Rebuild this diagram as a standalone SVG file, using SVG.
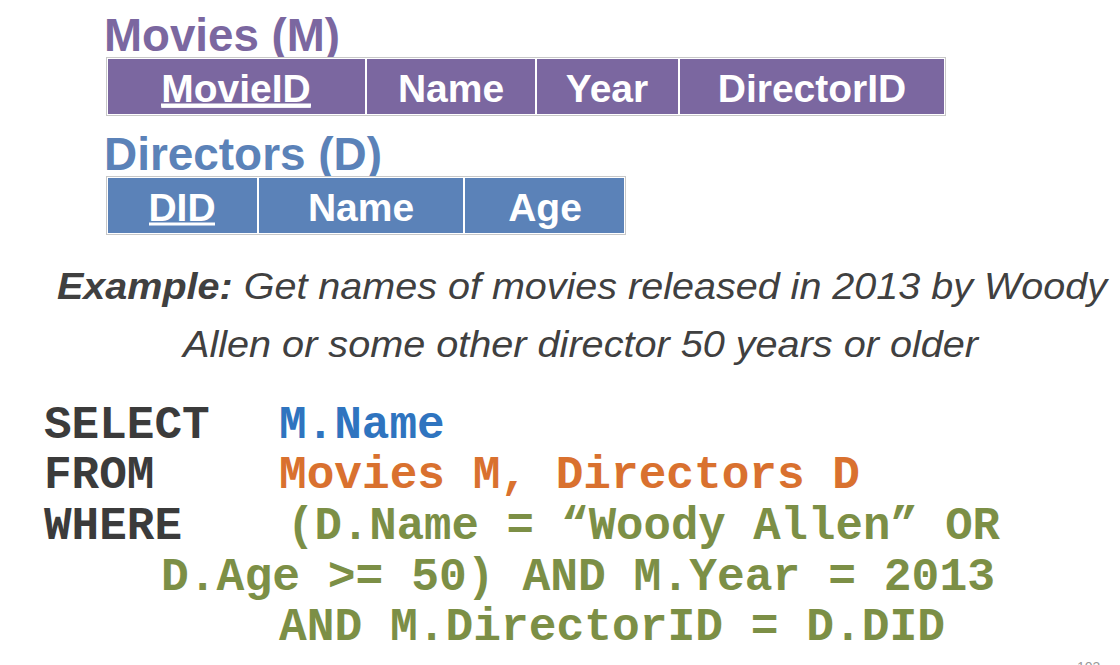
<svg xmlns="http://www.w3.org/2000/svg" width="1120" height="665" viewBox="0 0 1120 665">
<style>
.title{font-family:"Liberation Sans",Arial,sans-serif;font-weight:bold;font-size:46px}
.hdr{font-family:"Liberation Sans",Arial,sans-serif;font-weight:bold;font-size:39px;fill:#ffffff;text-anchor:middle}
.cellM{fill:#7b67a0;stroke:#ffffff;stroke-width:2}
.cellD{fill:#5b82b8;stroke:#ffffff;stroke-width:2}
.outer{fill:none;stroke:#c8c8c8;stroke-width:1}
.ex{font-family:"Liberation Sans",Arial,sans-serif;font-style:italic;font-size:37px;fill:#404040}
.code{font-family:"Liberation Mono","Courier New",monospace;font-weight:bold;font-size:46px}
.kw{fill:#3b3b3b}
.blue{fill:#2f74bf}
.orange{fill:#d9712f}
.green{fill:#7c8f46}
</style>
<rect width="1120" height="665" fill="#ffffff"/>

<g id="movies">
  <text class="title" x="104" y="51" fill="#7b67a0" textLength="236" lengthAdjust="spacingAndGlyphs">Movies (M)</text>
  <rect class="cellM" x="107" y="58" width="259" height="57"/>
  <rect class="cellM" x="366" y="58" width="170" height="57"/>
  <rect class="cellM" x="536" y="58" width="143" height="57"/>
  <rect class="cellM" x="679" y="58" width="266" height="57"/>
  <rect class="outer" x="106.5" y="57.5" width="839" height="58"/>
  <text class="hdr" x="236" y="102" text-decoration="underline">MovieID</text>
  <text class="hdr" x="451" y="102">Name</text>
  <text class="hdr" x="607" y="102">Year</text>
  <text class="hdr" x="812" y="102">DirectorID</text>
  <rect x="161" y="103.5" width="150" height="3" fill="#ffffff"/>
</g>

<g id="directors">
  <text class="title" x="104" y="170" fill="#5b82b8" textLength="278" lengthAdjust="spacingAndGlyphs">Directors (D)</text>
  <rect class="cellD" x="107" y="177" width="151" height="57"/>
  <rect class="cellD" x="258" y="177" width="206" height="57"/>
  <rect class="cellD" x="464" y="177" width="161" height="57"/>
  <rect class="outer" x="106.5" y="176.5" width="519" height="58"/>
  <text class="hdr" x="182" y="221">DID</text>
  <text class="hdr" x="361" y="221">Name</text>
  <text class="hdr" x="545" y="221">Age</text>
  <rect x="149" y="222.5" width="66" height="3" fill="#ffffff"/>
</g>

<g id="example">
  <text class="ex" x="57" y="299" textLength="1050" lengthAdjust="spacingAndGlyphs"><tspan font-weight="bold">Example:</tspan> Get names of movies released in 2013 by Woody</text>
  <text class="ex" x="183" y="357" textLength="795" lengthAdjust="spacingAndGlyphs">Allen or some other director 50 years or older</text>
</g>

<g id="sql" class="code">
  <text class="kw" x="44" y="438">SELECT</text>
  <text class="blue" x="279" y="438">M.Name</text>
  <text class="kw" x="44" y="488">FROM</text>
  <text class="orange" x="279" y="488" textLength="581" lengthAdjust="spacingAndGlyphs">Movies M, Directors D</text>
  <text class="kw" x="44" y="539">WHERE</text>
  <text class="green" x="287" y="539" textLength="713" lengthAdjust="spacingAndGlyphs">(D.Name = “Woody Allen” OR</text>
  <text class="green" x="161" y="590" textLength="834" lengthAdjust="spacingAndGlyphs">D.Age &gt;= 50) AND M.Year = 2013</text>
  <text class="green" x="279" y="640" textLength="666" lengthAdjust="spacingAndGlyphs">AND M.DirectorID = D.DID</text>
</g>

<text x="1077" y="672" font-family="Liberation Sans,Arial,sans-serif" font-size="14" fill="#9a9a9a">103</text>
</svg>
